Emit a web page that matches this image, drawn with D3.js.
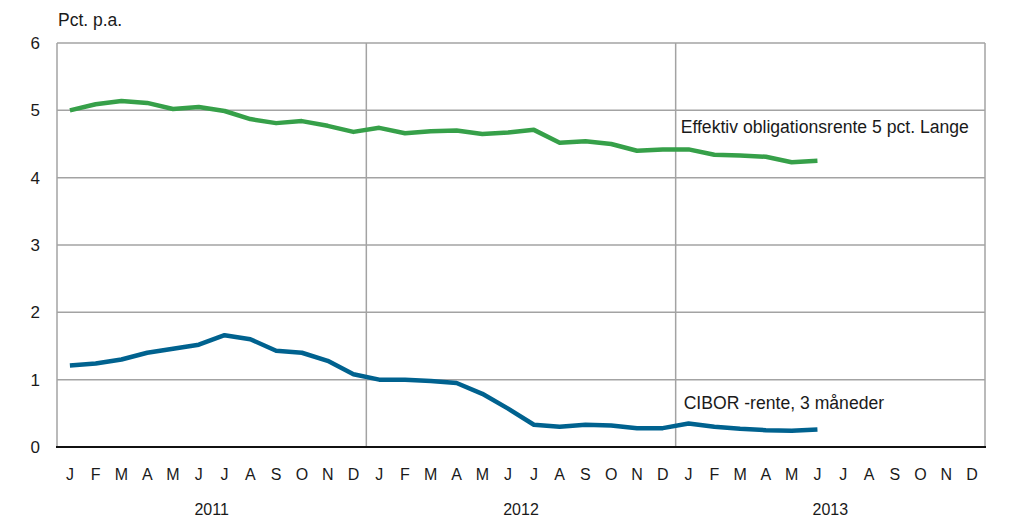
<!DOCTYPE html>
<html>
<head>
<meta charset="utf-8">
<script src="https://cdn.jsdelivr.net/npm/d3@7"></script>
<style>
  body { margin: 0; background: #fff; }
  svg text { font-family: "Liberation Sans Narrow", "Arial Narrow", "Liberation Sans", Arial, sans-serif; fill: #1a1a1a; }
</style>
</head>
<body>
<svg id="chart" width="1032" height="526"></svg>
<script>
// month letters and years on the x axis
var monthLetters = ["J", "F", "M", "A", "M", "J", "J", "A", "S", "O", "N", "D"];
var years = ["2011", "2012", "2013"];
var yTicks = [0, 1, 2, 3, 4, 5, 6];

// monthly values, Jan 2011 - Jun 2013
var obligation = [5.00, 5.09, 5.14, 5.11, 5.02, 5.05, 4.99, 4.87, 4.81, 4.84, 4.77, 4.68,
                  4.74, 4.66, 4.69, 4.70, 4.65, 4.67, 4.71, 4.52, 4.54, 4.50, 4.40, 4.42,
                  4.42, 4.34, 4.33, 4.31, 4.23, 4.25];
var cibor = [1.21, 1.24, 1.30, 1.40, 1.46, 1.52, 1.66, 1.60, 1.43, 1.40, 1.28, 1.08,
             1.00, 1.00, 0.98, 0.95, 0.79, 0.57, 0.33, 0.30, 0.33, 0.32, 0.28, 0.28,
             0.35, 0.30, 0.27, 0.25, 0.24, 0.26];

var svg = d3.select("#chart"),
    margin = { top: 43, right: 47, bottom: 79, left: 57 },
    width = +svg.attr("width") - margin.left - margin.right,
    height = +svg.attr("height") - margin.top - margin.bottom;

var months = d3.range(years.length * 12);
var x = d3.scaleBand().domain(months).range([0, width]).padding(0);
var xYear = d3.scaleBand().domain(years).range([0, width]);
var y = d3.scaleLinear().domain([0, 6]).range([height, 0]);

var g = svg.append("g")
    .attr("transform", "translate(" + margin.left + "," + margin.top + ")");

// horizontal grid
g.append("g")
    .selectAll("line")
    .data(yTicks.filter(d => d > 0))
    .enter().append("line")
    .attr("x1", 0).attr("x2", width)
    .attr("y1", d => y(d)).attr("y2", d => y(d))
    .attr("stroke", "#a3a3a3").attr("stroke-width", 1.5);

// year dividers + side borders
var vlines = [0, width].concat(years.slice(1).map(yr => xYear(yr)));
g.append("g")
    .selectAll("line")
    .data(vlines)
    .enter().append("line")
    .attr("x1", d => d).attr("x2", d => d)
    .attr("y1", 0).attr("y2", height)
    .attr("stroke", "#a3a3a3").attr("stroke-width", 1.5);

// y labels
g.append("g")
    .selectAll("text")
    .data(yTicks)
    .enter().append("text")
    .attr("x", -17)
    .attr("y", d => y(d) + 6)
    .attr("text-anchor", "end")
    .style("font-size", "17px")
    .text(d => d);

svg.append("text")
    .attr("x", 58).attr("y", 26)
    .style("font-size", "17.5px")
    .text("Pct. p.a.");

// month labels
g.append("g")
    .selectAll("text")
    .data(months)
    .enter().append("text")
    .attr("x", d => x(d) + x.bandwidth() / 2)
    .attr("y", height + 33)
    .attr("text-anchor", "middle")
    .style("font-size", "16px")
    .text(d => monthLetters[d % 12]);

// year labels
g.append("g")
    .selectAll("text")
    .data(years)
    .enter().append("text")
    .attr("x", d => xYear(d) + xYear.bandwidth() / 2)
    .attr("y", height + 68)
    .attr("text-anchor", "middle")
    .style("font-size", "16px")
    .text(d => d);

// lines
var line = d3.line()
    .x((d, i) => x(i) + x.bandwidth() / 2)
    .y(d => y(d));

g.append("path").datum(obligation)
    .attr("d", line)
    .attr("fill", "none")
    .attr("stroke", "#36a049")
    .attr("stroke-width", 4.5)
    .attr("stroke-linejoin", "round");

g.append("path").datum(cibor)
    .attr("d", line)
    .attr("fill", "none")
    .attr("stroke", "#00628f")
    .attr("stroke-width", 4.5)
    .attr("stroke-linejoin", "round");

// bottom axis line
g.append("line")
    .attr("x1", -1).attr("x2", width + 1)
    .attr("y1", height).attr("y2", height)
    .attr("stroke", "#111").attr("stroke-width", 2);

// series labels
g.append("text")
    .attr("x", xYear("2013") + 5).attr("y", y(4.66))
    .style("font-size", "17.6px")
    .text("Effektiv obligationsrente 5 pct. Lange");

g.append("text")
    .attr("x", xYear("2013") + 8).attr("y", y(0.56))
    .style("font-size", "17.6px")
    .text("CIBOR -rente, 3 måneder");
</script>
</body>
</html>
